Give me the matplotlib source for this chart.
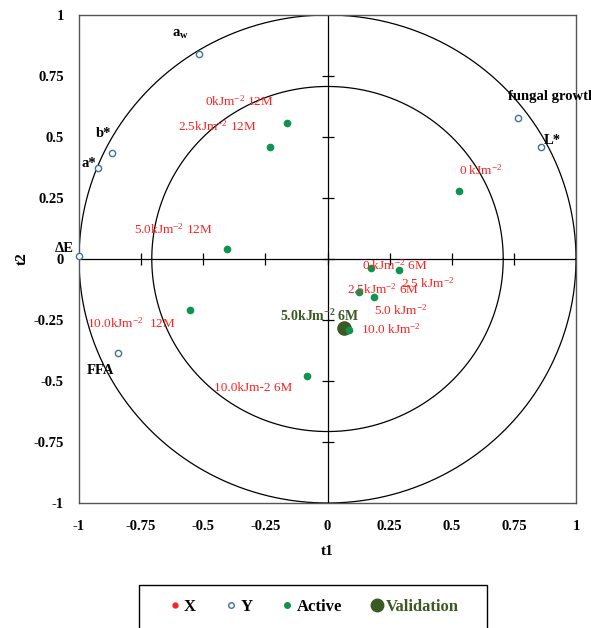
import numpy as np
import matplotlib
matplotlib.use("Agg")
import matplotlib.pyplot as plt
from matplotlib.lines import Line2D
from matplotlib.patches import Rectangle

plt.rcParams['font.family'] = ['Liberation Serif', 'DejaVu Serif']
plt.rcParams['mathtext.default'] = 'regular'

# Y variables (correlation with t1, t2)
y_names = ['a$_{w}$', 'b*', 'a*', '\u0394E', 'FFA', 'fungal growth', 'L*']
y_t1 = [-0.517, -0.867, -0.924, -1.0, -0.843, 0.767, 0.859]
y_t2 = [0.840, 0.434, 0.373, 0.012, -0.385, 0.578, 0.459]
y_lab_x = [-0.626, -0.932, -0.988, -1.097, -0.968, 0.726, 0.871]
y_lab_y = [0.922, 0.516, 0.393, 0.045, -0.459, 0.668, 0.484]

# active observations
obs_names = ['0kJm$^{-2}$ 12M', '2.5kJm$^{-2}$ 12M', '5.0kJm$^{-2}$ 12M',
             '10.0kJm$^{-2}$  12M', '10.0kJm-2 6M', '0 kJm$^{-2}$',
             '0 kJm$^{-2}$ 6M', '2.5 kJm$^{-2}$', '2.5kJm$^{-2}$ 6M',
             '5.0 kJm$^{-2}$', '10.0 kJm$^{-2}$']
obs_t1 = [-0.163, -0.231, -0.404, -0.553, -0.082, 0.529,
          0.175, 0.288, 0.127, 0.187, 0.087]
obs_t2 = [0.557, 0.459, 0.041, -0.209, -0.480, 0.279,
          -0.037, -0.045, -0.135, -0.156, -0.291]
obs_lab_x = [-0.493, -0.602, -0.779, -0.968, -0.457, 0.529,
             0.139, 0.296, 0.078, 0.187, 0.135]
obs_lab_y = [0.648, 0.545, 0.123, -0.262, -0.529, 0.365,
             -0.025, -0.098, -0.123, -0.209, -0.287]

# validation observation
val_name = '5.0kJm$^{-2}$ 6M'
val_t1 = [0.066]
val_t2 = [-0.283]
val_lab = (-0.191, -0.234)

ticks = [-1, -0.75, -0.5, -0.25, 0, 0.25, 0.5, 0.75, 1]
tick_labels = ['-1', '-0.75', '-0.5', '-0.25', '0', '0.25', '0.5', '0.75', '1']

blue = '#41719C'
green = '#0E944C'
dark = '#3B5A22'
red = '#FF2020'

fig = plt.figure(figsize=(5.91, 6.28), dpi=100)
ax = fig.add_axes([79/591, 1-503/628, 497/591, 488/628])
ax.set_xlim(-1, 1)
ax.set_ylim(-1, 1)

# correlation circles
th = np.linspace(0, 2*np.pi, 400)
for r in [1.0, np.sqrt(0.5)]:
    ax.plot(r*np.cos(th), r*np.sin(th), color='black', lw=0.9, zorder=1)

ax.axhline(0, color='black', lw=0.9, zorder=1)
ax.axvline(0, color='black', lw=0.9, zorder=1)
ax.plot(ticks[1:-1], np.zeros(7), ls='none', marker='|', ms=9, mew=0.9, color='black', zorder=1)
ax.plot(np.zeros(7), ticks[1:-1], ls='none', marker='_', ms=9, mew=0.9, color='black', zorder=1)

for s in ax.spines.values():
    s.set_color('#555555')
    s.set_linewidth(1.0)

ax.set_xticks(ticks)
ax.set_xticklabels(tick_labels)
ax.set_yticks(ticks)
ax.set_yticklabels(tick_labels)
ax.tick_params(length=0, labelsize=10.5)
ax.tick_params(axis='x', pad=12)
ax.tick_params(axis='y', pad=11)
for lbl in ax.get_xticklabels() + ax.get_yticklabels():
    lbl.set_fontweight('bold')
ax.set_xlabel('t1', fontsize=11, fontweight='bold', labelpad=9)
ax.set_ylabel('t2', fontsize=11, fontweight='bold', labelpad=3)

ax.plot([], [], ls='none', marker='o', ms=3.5, color=red)
ax.plot(y_t1, y_t2, ls='none', marker='o', ms=4.5, mfc='white', mec=blue, mew=1.0, zorder=3, clip_on=False)
ax.plot(obs_t1, obs_t2, ls='none', marker='o', ms=4.5, color=green, zorder=3)
ax.plot(val_t1, val_t2, ls='none', marker='o', ms=9.5, color=dark, zorder=2)

for n, x, y in zip(y_names, y_lab_x, y_lab_y):
    ax.text(x, y, n, fontsize=10.5, fontweight='bold', ha='left', va='center')
for n, x, y in zip(obs_names, obs_lab_x, obs_lab_y):
    ax.text(x, y, n, fontsize=9.5, color=red, ha='left', va='center')
ax.text(val_lab[0], val_lab[1], val_name, fontsize=10, fontweight='bold', color=dark,
        ha='left', va='center')

# legend box (runs off the bottom of the figure, as in the original)
fig.patches.append(Rectangle((139/591, -0.05), 348/591, 0.05 + 43/628,
                             transform=fig.transFigure, fill=False,
                             edgecolor='black', lw=1.0))
handles = [
    Line2D([], [], ls='none', marker='o', ms=3.5, color=red),
    Line2D([], [], ls='none', marker='o', ms=4, mfc='white', mec=blue, mew=1.0),
    Line2D([], [], ls='none', marker='o', ms=4, color=green),
    Line2D([], [], ls='none', marker='o', ms=9, color=dark),
]
leg = fig.legend(handles, ['X', 'Y', 'Active', 'Validation'], ncol=4,
                 loc='center left', bbox_to_anchor=(170/591, 1-607/628),
                 prop={'weight': 'bold', 'size': 12}, frameon=False,
                 handlelength=0.6, handletextpad=0.25,
                 columnspacing=1.8, borderpad=0, borderaxespad=0)
leg.get_texts()[3].set_color(dark)

fig.savefig('out.png', dpi=100)
